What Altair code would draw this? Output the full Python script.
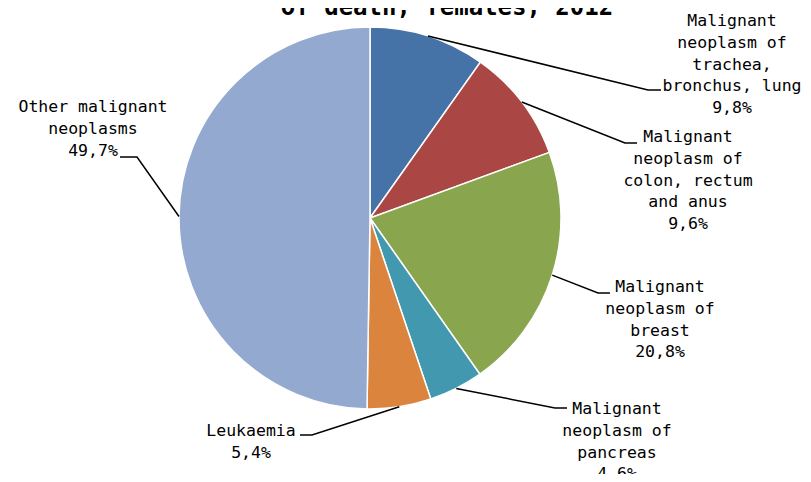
import altair as alt
import pandas as pd
import numpy as np

# ---- data ----
categories = [
    "Malignant neoplasm of trachea, bronchus, lung",
    "Malignant neoplasm of colon, rectum and anus",
    "Malignant neoplasm of breast",
    "Malignant neoplasm of pancreas",
    "Leukaemia",
    "Other malignant neoplasms",
]
shares = [9.8, 9.6, 20.8, 4.6, 5.4, 49.7]
label_text = [
    ["Malignant", "neoplasm of", "trachea,", "bronchus, lung"],
    ["Malignant", "neoplasm of", "colon, rectum", "and anus"],
    ["Malignant", "neoplasm of", "breast"],
    ["Malignant", "neoplasm of", "pancreas"],
    ["Leukaemia"],
    ["Other malignant", "neoplasms"],
]
title_text = "of death, females, 2012"

# ---- styles / layout ----
colors = ["#4572A7", "#AA4643", "#89A54E", "#4198AF", "#DB843D", "#93A9CF"]
W, H = 795, 466
cx, cy, R = 362, 210, 191
font = "DejaVu Sans Mono"
fsize = 16.5
line_h = 21.8
# leader elbow / end points and label block centres (pixel layout)
elbow = [(640, 82), (617, 135), (590, 285), (547, 400), (304, 427), (129, 149)]
tail = [(653, 82), (629, 135), (602, 285), (559, 400), (292, 427), (112, 149)]
label_pos = [(724, 13), (680, 129), (652, 279), (609, 401), (243, 423), (85, 99)]

pie_df = pd.DataFrame({"cat": categories, "share": shares, "idx": range(len(shares))})

total = sum(shares)
cum = np.cumsum([0] + shares)
rows = []
for i, s in enumerate(shares):
    a = (cum[i] + s / 2) / total * 2 * np.pi
    sx, sy = cx + R * np.sin(a), cy - R * np.cos(a)
    pts = [(sx, sy), elbow[i], tail[i]]
    for k, (px, py) in enumerate(pts):
        rows.append({"cat": categories[i], "k": k, "px": px, "py": py})
line_df = pd.DataFrame(rows)

trows = []
for i, s in enumerate(shares):
    lines = label_text[i] + [f"{s:.1f}".replace(".", ",") + "%"]
    lx, ly = label_pos[i]
    for j, t in enumerate(lines):
        trows.append({"t": t, "px": lx, "py": ly + j * line_h})
text_df = pd.DataFrame(trows)

pie = alt.Chart(pie_df).mark_arc(radius=R, stroke="white", strokeWidth=1.5).encode(
    theta=alt.Theta("share:Q", stack=True),
    order=alt.Order("idx:Q"),
    color=alt.Color("cat:N", scale=alt.Scale(domain=categories, range=colors), legend=None),
    x=alt.value(cx),
    y=alt.value(cy),
)

leaders = alt.Chart(line_df).mark_line(color="black", strokeWidth=1.5).encode(
    x=alt.X("px:Q", scale=None),
    y=alt.Y("py:Q", scale=None),
    detail="cat:N",
    order="k:Q",
)

labels = alt.Chart(text_df).mark_text(
    font=font, fontSize=fsize, color="black", align="center", baseline="middle"
).encode(
    x=alt.X("px:Q", scale=None),
    y=alt.Y("py:Q", scale=None),
    text="t:N",
)

title = alt.Chart(pd.DataFrame({"t": [title_text]})).mark_text(
    font=font, fontSize=24, fontWeight="bold", color="black", align="center", baseline="alphabetic"
).encode(x=alt.value(439), y=alt.value(7), text="t:N")

chart = alt.layer(pie, leaders, labels, title).properties(
    width=W, height=H, autosize=alt.AutoSizeParams(type="none"), padding=0
).configure_view(stroke=None)

chart.save("out.html", embed_options={"renderer": "svg", "actions": False})
